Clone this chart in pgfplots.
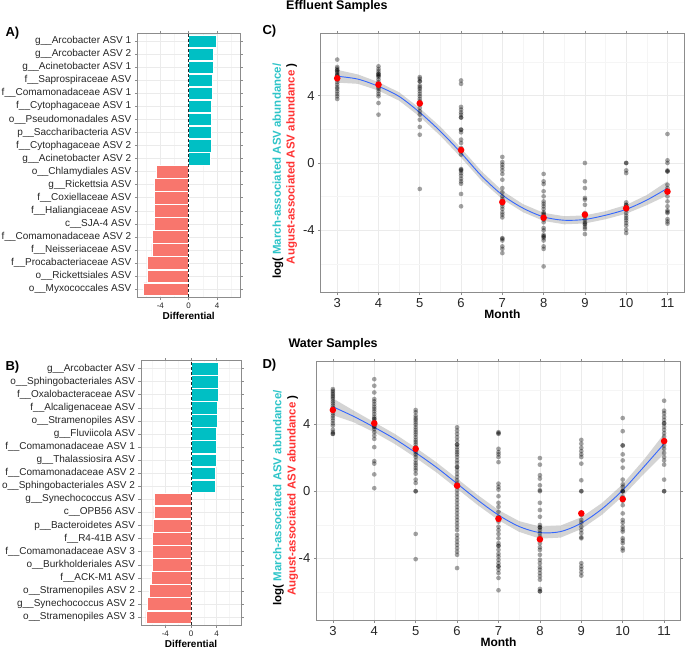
\documentclass[border=0pt]{standalone}
\usepackage{pgfplots}
\pgfplotsset{compat=1.18}
\usepackage{fontspec}
\setmainfont{Liberation Sans}
\definecolor{barteal}{HTML}{00BFC4}
\definecolor{barred}{HTML}{F8766D}
\definecolor{txtteal}{HTML}{2EC4C8}
\definecolor{txtred}{HTML}{FF3333}
\definecolor{gridmaj}{HTML}{EBEBEB}
\definecolor{gridmin}{HTML}{F5F5F5}
\definecolor{framec}{HTML}{8C8C8C}
\definecolor{smoothblue}{HTML}{3366FF}
\pgfplotsset{
 common/.style={scale only axis, anchor=south west,
   axis line style={framec, line width=0.9pt},
   grid=both, major grid style={gridmaj, line width=0.6pt},
   minor grid style={gridmin, line width=0.4pt},
   tick align=outside, major tick length=2.5pt, minor tick length=0pt,
   tick style={framec, line width=0.6pt},
   /pgf/number format/assume math mode=true},
 barax/.style={common, xbar, bar width=0.96, bar shift=0pt,
   xmin=-7.25, xmax=7.25, ymin=0.4, ymax=20.6, ytick={1,...,20},
   xtick={-4,0,4}, xticklabels={-4,0,4}, minor xtick={-6,-2,2,6},
   yticklabel style={font=\fontsize{10}{12}\selectfont, text=black!85},
   xticklabel style={font=\fontsize{8}{9}\selectfont, text=black!85},
   xlabel={\bfseries Differential}, xlabel style={font=\fontsize{10}{12}\selectfont, yshift=3pt}},
 lineax/.style={common, xmin=2.6, xmax=11.4, ymin=-7.7, ymax=7.7,
   xtick={3,4,5,6,7,8,9,10,11}, minor xtick={3.5,4.5,5.5,6.5,7.5,8.5,9.5,10.5},
   ytick={-4,0,4}, yticklabels={-4,0,4}, minor ytick={-6,-2,2,6},
   ticklabel style={font=\fontsize{13}{15}\selectfont, text=black!85},
   xlabel={\bfseries Month}, xlabel style={font=\fontsize{12}{14}\selectfont, yshift=5pt}},
 gpts/.style={only marks, mark=*, mark size=2.35pt, black, mark options={draw opacity=0, fill=black, fill opacity=0.36}},
 rpts/.style={only marks, mark=*, mark size=3.3pt, red, mark options={draw opacity=0, fill=red}},
 bars/.style={draw=white, line width=0.6pt},
 zeroline/.style={sharp plot, black!85, densely dashed, line width=0.55pt},
}
\begin{document}
\begin{tikzpicture}
\path[use as bounding box] (0pt,0pt) rectangle (685pt,649pt);
% ---------------- A
\begin{axis}[barax, at={(137.3pt,352pt)}, width=102.7pt, height=263.7pt,
 yticklabels={o\_\_Myxococcales ASV, o\_\_Rickettsiales ASV, f\_\_Procabacteriaceae ASV, f\_\_Neisseriaceae ASV, f\_\_Comamonadaceae ASV 2, c\_\_SJA-4 ASV, f\_\_Haliangiaceae ASV, f\_\_Coxiellaceae ASV, g\_\_Rickettsia ASV, o\_\_Chlamydiales ASV, g\_\_Acinetobacter ASV 2, f\_\_Cytophagaceae ASV 2, p\_\_Saccharibacteria ASV, o\_\_Pseudomonadales ASV, f\_\_Cytophagaceae ASV 1, f\_\_Comamonadaceae ASV 1, f\_\_Saprospiraceae ASV, g\_\_Acinetobacter ASV 1, g\_\_Arcobacter ASV 2, g\_\_Arcobacter ASV 1}]
\addplot[bars, fill=barred] coordinates {(-6.37,1) (-5.8,2) (-5.8,3) (-5.2,4) (-5.1,5) (-4.85,6) (-4.85,7) (-4.8,8) (-4.8,9) (-4.6,10)};
\addplot[bars, fill=barteal] coordinates {(3.1,11) (3.15,12) (3.15,13) (3.2,14) (3.2,15) (3.3,16) (3.3,17) (3.47,18) (3.55,19) (3.95,20)};
\addplot[zeroline] coordinates {(0,0.4) (0,20.6)};
\end{axis}
% ---------------- B
\begin{axis}[barax, at={(141pt,24pt)}, width=100pt, height=264.3pt, xmin=-7.8, xmax=7.8,
 yticklabels={o\_\_Stramenopiles ASV 3, g\_\_Synechococcus ASV 2, o\_\_Stramenopiles ASV 2, f\_\_ACK-M1 ASV, o\_\_Burkholderiales ASV, f\_\_Comamonadaceae ASV 3, f\_\_R4-41B ASV, p\_\_Bacteroidetes ASV, c\_\_OPB56 ASV, g\_\_Synechococcus ASV, o\_\_Sphingobacteriales ASV 2, f\_\_Comamonadaceae ASV 2, g\_\_Thalassiosira ASV, f\_\_Comamonadaceae ASV 1, g\_\_Fluviicola ASV, o\_\_Stramenopiles ASV, f\_\_Alcaligenaceae ASV, f\_\_Oxalobacteraceae ASV, o\_\_Sphingobacteriales ASV, g\_\_Arcobacter ASV}]
\addplot[bars, fill=barred] coordinates {(-7.05,1) (-6.75,2) (-6.5,3) (-6.15,4) (-6.05,5) (-6.05,6) (-6.05,7) (-5.9,8) (-5.8,9) (-5.7,10)};
\addplot[bars, fill=barteal] coordinates {(3.85,11) (3.85,12) (3.9,13) (3.9,14) (4.0,15) (4.05,16) (4.15,17) (4.2,18) (4.3,19) (4.3,20)};
\addplot[zeroline] coordinates {(0,0.4) (0,20.6)};
\end{axis}
% ---------------- C
\begin{axis}[lineax, at={(320.7pt,356.3pt)}, width=363.3pt, height=259.4pt]
\addplot[fill=gray, fill opacity=0.34, draw=none] coordinates {(3,5.53) (3.5,5.26) (4,4.80) (4.5,4.20) (5,3.25) (5.5,2.15) (6,0.88) (6.5,-0.50) (7,-1.65) (7.5,-2.44) (8,-2.96) (8.5,-3.16) (9,-3.11) (9.5,-2.86) (10,-2.49) (10.5,-1.9) (11,-1.08)
 (11,-1.92) (10.5,-2.5) (10,-3.01) (9.5,-3.34) (9,-3.59) (8.5,-3.64) (8,-3.44) (7.5,-2.92) (7,-2.15) (6.5,-1.06) (6,0.32) (5.5,1.61) (5,2.75) (4.5,3.70) (4,4.30) (3.5,4.70) (3,4.77)};
\addplot[gpts] coordinates {
(3,6.14) (3,5.7) (3,5.6) (3,5.5) (3,5.4) (3,5.3) (3,5.2) (3,5.2) (3,5.1) (3,4.95) (3,4.8) (3,4.65) (3,4.5) (3,4.4) (3,4.25) (3,4.1) (3,3.96) (3,3.8) (3,5.5)
(4,5.74) (4,5.58) (4,5.45) (4,5.3) (4,5.2) (4,5.1) (4,4.95) (4,4.8) (4,4.65) (4,4.5) (4,4.4) (4,4.26) (4,4.1) (4,3.96) (4,3.56) (4,2.87) (4,5.3) (4,5.2)
(5,5.1) (5,5.0) (5,4.85) (5,4.6) (5,4.5) (5,4.4) (5,4.26) (5,4.1) (5,3.96) (5,3.8) (5,3.66) (5,3.47) (5,3.27) (5,3.07) (5,2.87) (5,2.57) (5,2.14) (5,1.68) (5,-1.54) (5,4.85)
(6,4.9) (6,4.7) (6,3.33) (6,3.17) (6,3.0) (6,2.87) (6,2.7) (6,1.98) (6,1.82) (6,1.39) (6,1.19) (6,0.89) (6,0.69) (6,0.5) (6,-0.36) (6,-0.46) (6,-0.6) (6,-0.75) (6,-0.93) (6,-1.09) (6,-1.23) (6,-1.84) (6,-2.57) (6,1.98) (6,-0.4) (6,2.7)
(7,0.36) (7,0.06) (7,-0.1) (7,-0.26) (7,-0.44) (7,-0.65) (7,-0.99) (7,-1.49) (7,-1.74) (7,-1.98) (7,-2.14) (7,-2.28) (7,-2.42) (7,-2.57) (7,-2.73) (7,-2.93) (7,-3.07) (7,-3.23) (7,-4.46) (7,-4.6) (7,-4.95) (7,-5.1) (7,-5.35) (7,-4.5)
(8,-0.65) (8,-1.09) (8,-1.25) (8,-1.68) (8,-1.98) (8,-2.28) (8,-2.42) (8,-2.57) (8,-2.73) (8,-2.93) (8,-3.07) (8,-3.2) (8,-3.37) (8,-3.52) (8,-3.86) (8,-4.0) (8,-4.26) (8,-4.36) (8,-4.46) (8,-4.6) (8,-4.95) (8,-5.1) (8,-6.14) (8,-4.36) (8,-3.0)
(9,0) (9,-1.09) (9,-1.49) (9,-2.08) (9,-2.18) (9,-2.48) (9,-2.97) (9,-3.17) (9,-3.37) (9,-3.52) (9,-3.66) (9,-3.8) (9,-3.92) (9,-4.22) (9,-3.6)
(10,0) (10,-0.44) (10,-0.6) (10,-2.34) (10,-2.48) (10,-2.61) (10,-2.77) (10,-2.97) (10,-3.13) (10,-3.27) (10,-3.4) (10,-3.56) (10,-3.72) (10,-3.96) (10,-4.16) (10,0) (10,-2.5)
(11,1.72) (11,0.16) (11,0) (11,-0.44) (11,-0.5) (11,-1.29) (11,-1.49) (11,-1.68) (11,-1.98) (11,-2.28) (11,-2.57) (11,-2.81) (11,-2.97) (11,-3.33) (11,-3.47) (11,-3.6) (11,-0.5) (11,-2.9)};
\addplot[smoothblue, line width=0.9pt, smooth] coordinates {(3,5.15) (3.5,4.98) (4,4.55) (4.5,3.95) (5,3.0) (5.5,1.88) (6,0.6) (6.5,-0.78) (7,-1.9) (7.5,-2.68) (8,-3.2) (8.5,-3.4) (9,-3.35) (9.5,-3.1) (10,-2.75) (10.5,-2.2) (11,-1.5)};
\addplot[rpts] coordinates {(3,5.03) (4,4.65) (5,3.54) (6,0.77) (7,-2.32) (8,-3.25) (9,-3.07) (10,-2.69) (11,-1.70)};
\end{axis}
% ---------------- D
\begin{axis}[lineax, at={(316.3pt,28.3pt)}, width=364.4pt, height=259pt]
\addplot[fill=gray, fill opacity=0.34, draw=none] coordinates {(3,5.52) (3.5,4.80) (4,4.10) (4.5,3.40) (5,2.59) (5.5,1.72) (6,0.75) (6.5,-0.23) (7,-1.12) (7.5,-1.78) (8,-2.10) (8.5,-2.04) (9,-1.55) (9.5,-0.70) (10,0.42) (10.5,1.84) (11,3.42)
 (11,2.22) (10.5,1.00) (10,-0.30) (9.5,-1.40) (9,-2.25) (8.5,-2.76) (8,-2.82) (7.5,-2.42) (7,-1.72) (6.5,-0.83) (6,0.15) (5.5,1.12) (5,1.99) (4.5,2.80) (4,3.50) (3.5,4.10) (3,4.52)};
\addplot[gpts] coordinates {
(3,6.07) (3,5.97) (3,5.87) (3,5.77) (3,5.67) (3,5.58) (3,5.48) (3,5.34) (3,5.22) (3,5.08) (3,4.95) (3,4.79) (3,4.63) (3,4.49) (3,4.35) (3,4.2) (3,4.04) (3,3.9) (3,3.65) (3,3.51) (3,3.41) (3,3.41)
(4,6.66) (4,6.27) (4,5.87) (4,5.48) (4,5.34) (4,5.18) (4,5.02) (4,4.89) (4,4.75) (4,4.59) (4,4.43) (4,4.3) (4,4.16) (4,4.0) (4,3.84) (4,3.7) (4,3.51) (4,3.31) (4,3.11) (4,2.62) (4,1.79) (4,1.64) (4,1.0) (4,0.18) (4,4.3) (4,3.84)
(5,4.83) (5,4.69) (5,4.49) (5,4.35) (5,4.24) (5,4.1) (5,3.96) (5,3.8) (5,3.65) (5,3.51) (5,3.37) (5,3.21) (5,3.05) (5,2.92) (5,2.78) (5,2.62) (5,2.46) (5,2.32) (5,2.19) (5,2.03) (5,1.83) (5,1.67) (5,1.54) (5,1.38) (5,1.24) (5,1.04) (5,0.69) (5,0.49) (5,0) (5,0) (5,-2.54) (5,-4.04)
(6,3.8) (6,3.61) (6,3.41) (6,3.21) (6,3.01) (6,2.78) (6,2.62) (6,2.46) (6,2.32) (6,2.19) (6,2.03) (6,1.83) (6,1.67) (6,1.44) (6,1.24) (6,1.04) (6,0.85) (6,0.65) (6,0.45) (6,0.26) (6,0.06) (6,-0.14) (6,-0.33) (6,-0.53) (6,-0.73) (6,-0.93) (6,-1.12) (6,-1.32) (6,-1.52) (6,-1.71) (6,-1.91) (6,-2.11) (6,-2.31) (6,-2.6) (6,-2.8) (6,-3.0) (6,-3.19) (6,-3.39) (6,-3.59) (6,-3.78) (6,-4.57) (6,2.78) (6,1.44)
(7,3.51) (7,3.41) (7,2.52) (7,2.32) (7,2.19) (7,2.03) (7,1.73) (7,0.45) (7,0.26) (7,0.1) (7,-0.3) (7,-0.69) (7,-0.93) (7,-1.22) (7,-1.52) (7,-1.81) (7,-2.11) (7,-2.31) (7,-2.54) (7,-2.8) (7,-3.09) (7,-3.25) (7,-3.49) (7,-3.72) (7,-3.88) (7,-4.08) (7,-4.28) (7,-4.47) (7,-4.67) (7,-4.87) (7,-5.16) (7,-5.89) (7,-3.25) (7,3.45) (7,-4.47)
(8,1.97) (8,1.58) (8,0.95) (8,0.75) (8,0.35) (8,0.06) (8,-0.69) (8,-1.12) (8,-1.52) (8,-2.01) (8,-2.15) (8,-2.31) (8,-2.5) (8,-2.7) (8,-2.86) (8,-3.09) (8,-3.33) (8,-3.49) (8,-3.78) (8,-4.08) (8,-4.28) (8,-4.51) (8,-4.67) (8,-4.87) (8,-5.06) (8,-5.26) (8,-5.81) (8,-5.95) (8,-2.15) (8,-5.95) (8,0)
(9,3.05) (9,2.82) (9,2.58) (9,2.38) (9,2.19) (9,2.03) (9,1.64) (9,0.65) (9,0) (9,0) (9,-1.28) (9,-1.42) (9,-1.71) (9,-1.87) (9,-2.11) (9,-2.31) (9,-2.5) (9,-2.74) (9,-2.8) (9,-4.28) (9,-4.47) (9,-4.63) (9,-4.83) (9,-5.02)
(10,4.35) (10,3.57) (10,2.72) (10,2.72) (10,2.19) (10,1.83) (10,1.4) (10,0.69) (10,0.41) (10,0.26) (10,0) (10,0) (10,0) (10,-0.33) (10,-0.57) (10,-0.83) (10,-1.32) (10,-1.71) (10,-1.87) (10,-2.11) (10,-2.27) (10,-2.4) (10,-2.8) (10,-2.94) (10,-3.09) (10,-3.39) (10,-3.53)
(11,5.38) (11,4.79) (11,4.63) (11,4.43) (11,4.24) (11,4.04) (11,3.84) (11,3.65) (11,3.45) (11,3.25) (11,3.01) (11,2.72) (11,2.52) (11,2.27) (11,2.03) (11,1.83) (11,1.58) (11,0.69) (11,0) (11,0) (11,4.04)};
\addplot[smoothblue, line width=0.9pt, smooth] coordinates {(3,5.02) (3.5,4.45) (4,3.8) (4.5,3.1) (5,2.29) (5.5,1.42) (6,0.45) (6.5,-0.53) (7,-1.42) (7.5,-2.1) (8,-2.46) (8.5,-2.4) (9,-1.9) (9.5,-1.05) (10,0.06) (10.5,1.42) (11,2.82)};
\addplot[rpts] coordinates {(3,4.83) (4,4.04) (5,2.52) (6,0.33) (7,-1.64) (8,-2.86) (9,-1.32) (10,-0.47) (11,2.98)};
\end{axis}
% ---------------- texts
\node[anchor=west, font=\bfseries\fontsize{12.5}{14}\selectfont] at (282.7pt,643pt) {Effluent Samples};
\node[anchor=west, font=\bfseries\fontsize{12.5}{14}\selectfont] at (285pt,304.7pt) {Water Samples};
\node[anchor=west, font=\bfseries\fontsize{13}{15}\selectfont] at (2pt,616pt) {A)};
\node[anchor=west, font=\bfseries\fontsize{13}{15}\selectfont] at (2pt,282pt) {B)};
\node[anchor=west, font=\bfseries\fontsize{13}{15}\selectfont] at (259pt,618pt) {C)};
\node[anchor=west, font=\bfseries\fontsize{13}{15}\selectfont] at (259pt,284pt) {D)};
\node[rotate=90, anchor=east, font=\bfseries\fontsize{11.5}{13}\selectfont] at (278pt,589pt) {log( \textcolor{txtteal}{March-associated ASV abundance/}};
\node[rotate=90, anchor=east, font=\bfseries\fontsize{11.5}{13}\selectfont] at (291.7pt,589pt) {\textcolor{txtred}{August-associated ASV abundance} )};
\node[rotate=90, anchor=east, font=\bfseries\fontsize{11.5}{13}\selectfont] at (278.3pt,262.3pt) {log( \textcolor{txtteal}{March-associated ASV abundance/}};
\node[rotate=90, anchor=east, font=\bfseries\fontsize{11.5}{13}\selectfont] at (292.7pt,257.3pt) {\textcolor{txtred}{August-associated ASV abundance} )};
\end{tikzpicture}
\end{document}
